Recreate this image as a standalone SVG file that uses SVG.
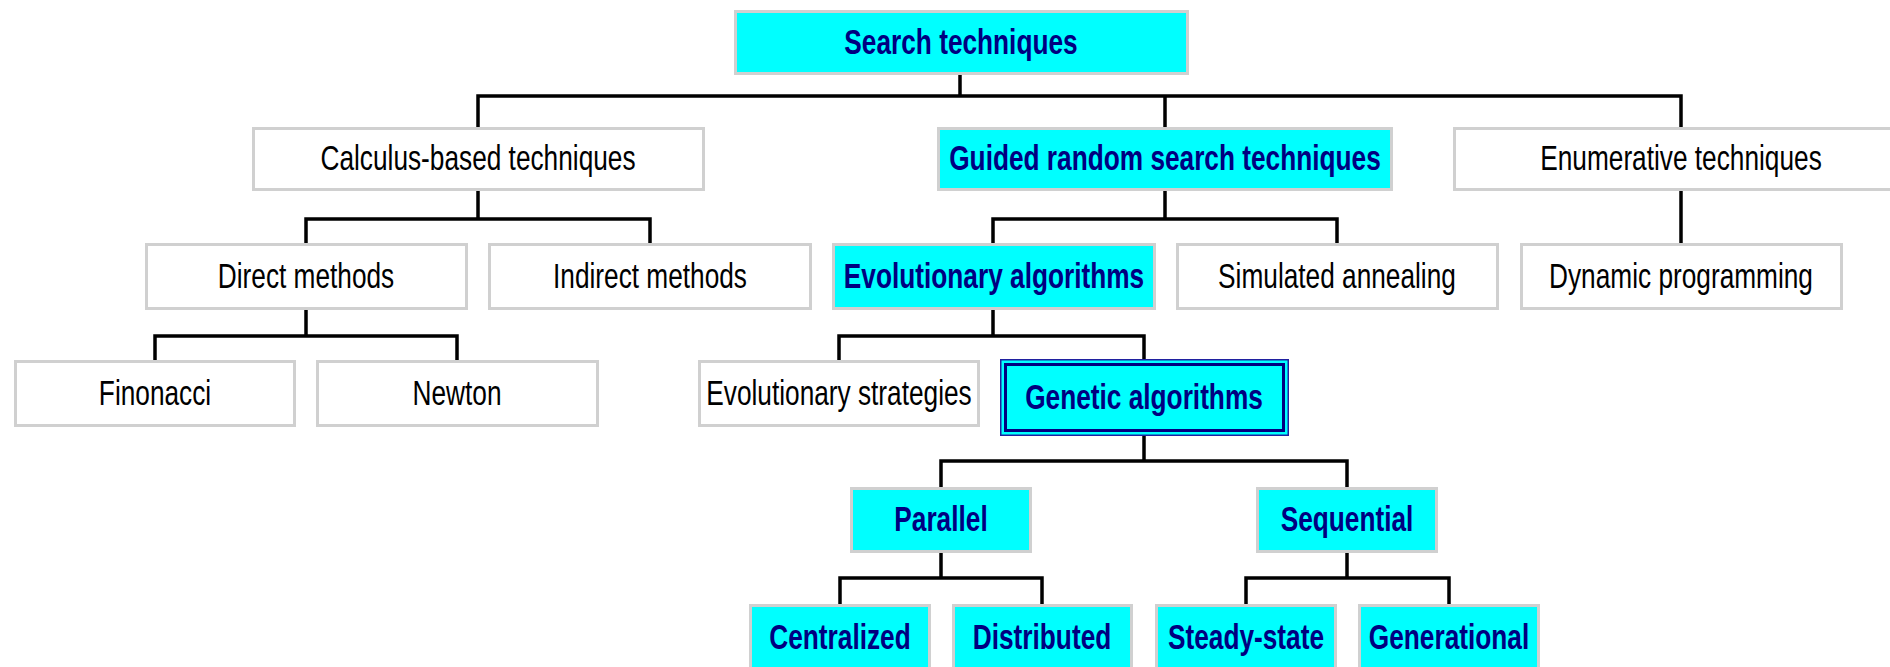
<svg xmlns="http://www.w3.org/2000/svg" width="1890" height="667" viewBox="0 0 1890 667">
<style>
.box{fill:#ffffff;stroke:#d0d0d0;stroke-width:3}
.hl{fill:#00ffff;stroke:#d0d0d0;stroke-width:3}
.t{font-family:"Liberation Sans",Arial,sans-serif;font-size:35px;text-anchor:middle;fill:#000000}
.tb{font-family:"Liberation Sans",Arial,sans-serif;font-size:35px;font-weight:bold;text-anchor:middle;fill:#000080}
.c{fill:none;stroke:#000000;stroke-width:3.5;stroke-linejoin:miter;stroke-linecap:butt}
</style>
<rect width="1890" height="667" fill="#ffffff"/>
<g id="connectors">
<path class="c" d="M960 75 V96 M478 127 V96 H1681 V127 M1165 96 V127"/>
<path class="c" d="M478 191 V219 M306 243 V219 H650 V243"/>
<path class="c" d="M1165 191 V219 M993 243 V219 H1337 V243"/>
<path class="c" d="M1681 191 V243"/>
<path class="c" d="M306 310 V336 M155 360 V336 H457 V360"/>
<path class="c" d="M993 310 V336 M839 360 V336 H1144 V359"/>
<path class="c" d="M1144 436 V461 M941 487 V461 H1347 V487"/>
<path class="c" d="M941 553 V578 M840 604 V578 H1042 V604"/>
<path class="c" d="M1347 553 V578 M1246 604 V578 H1449 V604"/>
</g>
<g id="search-techniques">
<rect class="hl" x="735.5" y="11.5" width="452" height="62"/>
<text class="tb" transform="translate(961 54) scale(0.75 1)">Search techniques</text>
</g>
<g id="calculus-based">
<rect class="box" x="253.5" y="128.5" width="450" height="61"/>
<text class="t" transform="translate(478 170) scale(0.75 1)">Calculus-based techniques</text>
</g>
<g id="guided-random">
<rect class="hl" x="938.5" y="128.5" width="453" height="61"/>
<text class="tb" transform="translate(1165 170) scale(0.75 1)">Guided random search techniques</text>
</g>
<g id="enumerative">
<rect class="box" x="1454.5" y="128.5" width="454" height="61"/>
<text class="t" transform="translate(1681 170) scale(0.75 1)">Enumerative techniques</text>
</g>
<g id="direct-methods">
<rect class="box" x="146.5" y="244.5" width="320" height="64"/>
<text class="t" transform="translate(306 288) scale(0.75 1)">Direct methods</text>
</g>
<g id="indirect-methods">
<rect class="box" x="489.5" y="244.5" width="321" height="64"/>
<text class="t" transform="translate(650 288) scale(0.75 1)">Indirect methods</text>
</g>
<g id="evolutionary-algorithms">
<rect class="hl" x="833.5" y="244.5" width="321" height="64"/>
<text class="tb" transform="translate(994 288) scale(0.75 1)">Evolutionary algorithms</text>
</g>
<g id="simulated-annealing">
<rect class="box" x="1177.5" y="244.5" width="320" height="64"/>
<text class="t" transform="translate(1337 288) scale(0.75 1)">Simulated annealing</text>
</g>
<g id="dynamic-programming">
<rect class="box" x="1521.5" y="244.5" width="320" height="64"/>
<text class="t" transform="translate(1681 288) scale(0.75 1)">Dynamic programming</text>
</g>
<g id="finonacci">
<rect class="box" x="15.5" y="361.5" width="279" height="64"/>
<text class="t" transform="translate(155 405) scale(0.75 1)">Finonacci</text>
</g>
<g id="newton">
<rect class="box" x="317.5" y="361.5" width="280" height="64"/>
<text class="t" transform="translate(457 405) scale(0.75 1)">Newton</text>
</g>
<g id="evolutionary-strategies">
<rect class="box" x="699.5" y="361.5" width="279" height="64"/>
<text class="t" transform="translate(839 405) scale(0.75 1)">Evolutionary strategies</text>
</g>
<g id="genetic-algorithms">
<rect x="1000.75" y="359.75" width="287.5" height="75.5" fill="#00ffff" stroke="#2020a0" stroke-width="1.5"/>
<rect x="1005.5" y="364.5" width="278" height="66" fill="#00ffff" stroke="#000080" stroke-width="3"/>
<text class="tb" transform="translate(1144 409) scale(0.75 1)">Genetic algorithms</text>
</g>
<g id="parallel">
<rect class="hl" x="851.5" y="488.5" width="179" height="63"/>
<text class="tb" transform="translate(941 531) scale(0.75 1)">Parallel</text>
</g>
<g id="sequential">
<rect class="hl" x="1257.5" y="488.5" width="179" height="63"/>
<text class="tb" transform="translate(1347 531) scale(0.75 1)">Sequential</text>
</g>
<g id="centralized">
<rect class="hl" x="750.5" y="605.5" width="179" height="64"/>
<text class="tb" transform="translate(840 649) scale(0.75 1)">Centralized</text>
</g>
<g id="distributed">
<rect class="hl" x="953.5" y="605.5" width="178" height="64"/>
<text class="tb" transform="translate(1042 649) scale(0.75 1)">Distributed</text>
</g>
<g id="steady-state">
<rect class="hl" x="1156.5" y="605.5" width="179" height="64"/>
<text class="tb" transform="translate(1246 649) scale(0.75 1)">Steady-state</text>
</g>
<g id="generational">
<rect class="hl" x="1359.5" y="605.5" width="179" height="64"/>
<text class="tb" transform="translate(1449 649) scale(0.75 1)">Generational</text>
</g>
</svg>
